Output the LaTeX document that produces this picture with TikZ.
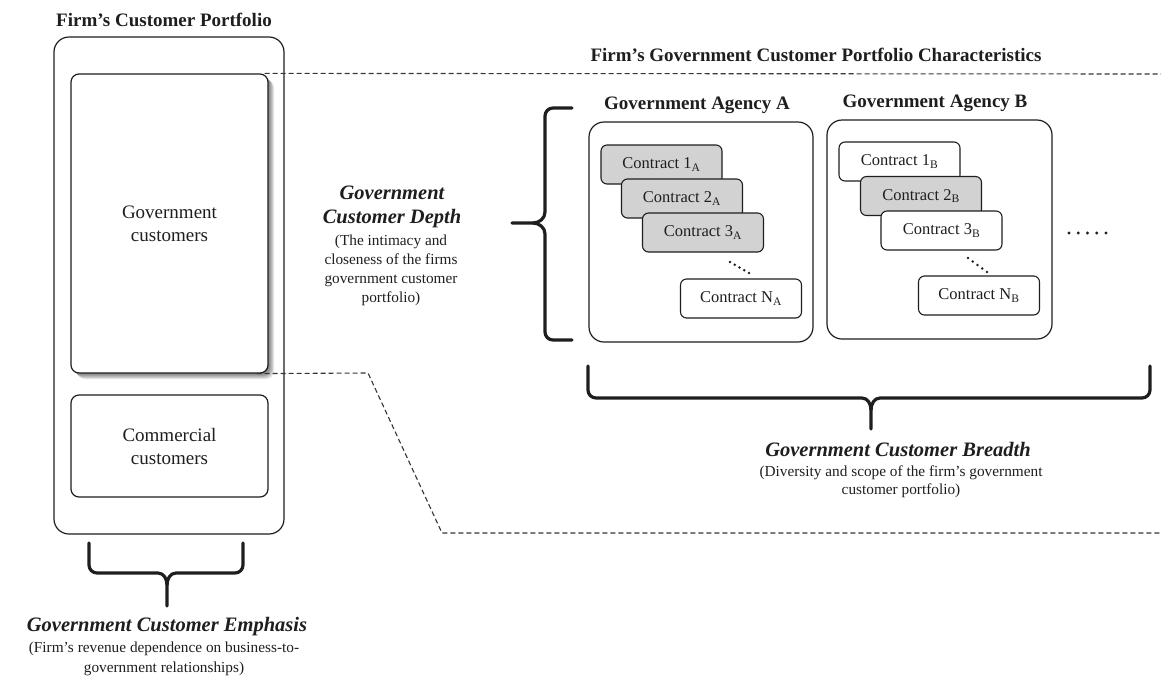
\documentclass[tikz,border=0pt]{standalone}
\usepackage{fontspec}
\setmainfont{Liberation Serif}
\usetikzlibrary{calc}
\definecolor{ink}{HTML}{1E1E1E}
\definecolor{cgray}{HTML}{D2D2D2}
\newcommand\ttlfont{\fontsize{19}{22}\selectfont\bfseries}
\newcommand\hdfont{\fontsize{20.5}{24}\selectfont\bfseries\itshape}
\newcommand\sbfont{\fontsize{15.3}{19}\selectfont}
\newcommand\bxfont{\fontsize{19}{23}\selectfont}
\newcommand\ctfont{\fontsize{16.5}{20}\selectfont}
\begin{document}
\begin{tikzpicture}[x=1pt,y=-1pt,
  bigbox/.style={draw=ink, line width=1.2pt, rounded corners=15pt, fill=white, inner sep=0pt},
  midbox/.style={draw=ink, line width=1.2pt, rounded corners=8pt, fill=white, inner sep=0pt, text=ink, font=\bxfont, align=center},
  ctbox/.style={draw=ink, line width=1.1pt, rounded corners=6pt, minimum width=121pt, minimum height=39pt, inner sep=0pt, text=ink, font=\ctfont},
  ctw/.style={ctbox, fill=white},
  ctg/.style={ctbox, fill=cgray},
  ttltxt/.style={text=ink, font=\ttlfont, inner sep=0pt},
  hdtxt/.style={text=ink, font=\hdfont, inner sep=0pt, align=center},
  sbtxt/.style={text=ink, font=\sbfont, inner sep=0pt, align=center},
  bracestyle/.style={draw=ink, line width=3.2pt, line cap=round, line join=round},
  dashline/.style={draw=ink!90, line width=1.1pt, dash pattern=on 5pt off 3pt},
  dotfill/.style={fill=ink}
]
\useasboundingbox (0,0) rectangle (1161,678);

% ---------- left: firm's customer portfolio ----------
\node[ttltxt] (ttl) at (164,20) {Firm's Customer Portfolio};
\node[bigbox, minimum width=230pt, minimum height=497pt] (port) at (169,285.5) {};

% shadow of government box
\foreach \s in {1,2,3,4,5,6}{
  \fill[black, opacity=0.10, rounded corners=8pt] (71+\s,74+\s) rectangle (268+\s,373+\s);
}
\node[midbox, minimum width=197pt, minimum height=299pt] (gov) at (169.5,223.5) {Government\\customers};
\node[midbox, minimum width=197pt, minimum height=102pt] (com) at (169.5,446) {Commercial\\customers};

% bottom brace (emphasis)
\draw[bracestyle] (89,543) -- (89,565) to[out=-90,in=180] (97,573) -- (158,573) to[out=0,in=90] (167,585) -- (167,606);
\draw[bracestyle] (243,543) -- (243,565) to[out=-90,in=0] (235,573) -- (176,573) to[out=180,in=90] (167,585);
\node[hdtxt] (emh) at (167,627) {Government Customer Emphasis};
\node[sbtxt, font=\fontsize{15.3}{20}\selectfont] (ems) at (164,659) {(Firm's revenue dependence on business-to-\\government relationships)};

% ---------- dashed connectors ----------
\coordinate (rtop) at (1161,74);
\coordinate (k1) at (368,373);
\coordinate (k2) at (442,533);
\coordinate (rbot) at (1161,533);
\draw[dashline] ($(gov.north east)+(-4,0)$) -- (rtop);
\draw[dashline] ($(gov.south east)+(-12,0)$) -- (k1) -- (k2) -- (rbot);

% ---------- right: characteristics ----------
\node[ttltxt] (ttr) at (816,55) {Firm's Government Customer Portfolio Characteristics};

% depth
\node[hdtxt] (dph) at (392,207) {Government\\Customer Depth};
\node[sbtxt] (dps) at (391,270) {(The intimacy and\\closeness of the firms\\government customer\\portfolio)};
\draw[bracestyle] (572,108) -- (553,108) to[out=180,in=90] (545,116) -- (545,212) to[out=-90,in=0] (533,223) -- (512,223);
\draw[bracestyle] (572,340) -- (553,340) to[out=180,in=-90] (545,332) -- (545,234) to[out=90,in=0] (533,223);

% agency A
\node[ttltxt] (agAl) at (697,105) {Government Agency A};
\node[bigbox, minimum width=224pt, minimum height=220pt] (agA) at (701,232) {};
\node[ctg] (c1A) at (661.5,164.5) {Contract 1\textsubscript{A}};
\node[ctg] (c2A) at (682,198.5) {Contract 2\textsubscript{A}};
\node[ctg] (c3A) at (703,232.5) {Contract 3\textsubscript{A}};
\node[ctw] (cNA) at (741,298.5) {Contract N\textsubscript{A}};
\foreach \t in {0,0.25,0.5,0.75,1}{
  \fill[dotfill] ($(730,262)!\t!(749,273)$) circle (1.3pt);
}

% agency B
\node[ttltxt] (agBl) at (935,103) {Government Agency B};
\node[bigbox, minimum width=225pt, minimum height=219pt] (agB) at (939.5,229.5) {};
\node[ctw] (c1B) at (899.5,161.5) {Contract 1\textsubscript{B}};
\node[ctg] (c2B) at (921,196) {Contract 2\textsubscript{B}};
\node[ctw] (c3B) at (941.5,230.5) {Contract 3\textsubscript{B}};
\node[ctw] (cNB) at (979,295.5) {Contract N\textsubscript{B}};
\foreach \t in {0,0.25,0.5,0.75,1}{
  \fill[dotfill] ($(968,258)!\t!(987,272)$) circle (1.3pt);
}
\foreach \t in {0,0.25,0.5,0.75,1}{
  \fill[dotfill] ($(1069,233)!\t!(1106,233)$) circle (1.7pt);
}

% breadth brace
\draw[bracestyle] (588,366) -- (588,390) to[out=-90,in=180] (596,398) -- (862,398) to[out=0,in=90] (871,410) -- (871,429);
\draw[bracestyle] (1150,366) -- (1150,390) to[out=-90,in=0] (1142,398) -- (880,398) to[out=180,in=90] (871,410);
\node[hdtxt] (brh) at (898,449) {Government Customer Breadth};
\node[sbtxt, font=\fontsize{15.3}{18}\selectfont] (brs) at (901,482) {(Diversity and scope of the firm's government\\customer portfolio)};
\end{tikzpicture}
\end{document}
